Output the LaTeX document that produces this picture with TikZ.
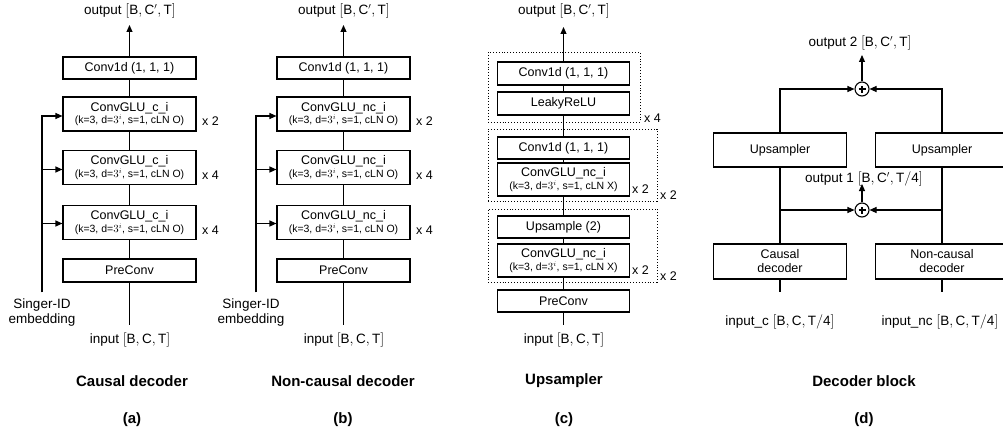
\documentclass[tikz,border=0pt]{standalone}
\usepackage{fontspec}
\setmainfont{Liberation Sans}
\usetikzlibrary{arrows.meta,calc}

% two-line label of a gated convolution block
\newcommand{\glu}[2]{ConvGLU\_#1\_i\\[-1.5pt]{\fontsize{10.5}{12}\selectfont (k=3, d=$3^{i}$, s=1, cLN #2)}}
\newcommand{\shp}[1]{$[\mathrm{#1}]$}

\tikzset{
  blk/.style={draw, line width=1.1pt, minimum width=133pt, inner sep=0pt, align=center,
              font=\fontsize{12.5}{14}\selectfont},
  tall/.style={blk, minimum height=34pt},
  short/.style={blk, minimum height=22pt},
  lbl/.style={font=\fontsize{13.5}{15}\selectfont, inner sep=0pt, align=center},
  rep/.style={font=\fontsize{12.5}{14}\selectfont, inner sep=0pt, anchor=west},
  ttl/.style={font=\fontsize{15}{17}\selectfont\bfseries, inner sep=0pt},
  wire/.style={line width=1.1pt},
  arr/.style={wire, -{Triangle[length=7pt,width=6pt]}},
  grp/.style={draw, dotted, line width=0.9pt, inner sep=0pt},
  sum/.style={circle, draw, line width=1.1pt, minimum size=14pt, inner sep=0pt,
    path picture={\draw[line width=1.4pt]
      ($(path picture bounding box.center)+(-3.5pt,0)$) -- ++(7pt,0)
      ($(path picture bounding box.center)+(0,-3.5pt)$) -- ++(0,7pt);}},
}

\begin{document}
\begin{tikzpicture}[x=1pt,y=-1pt]
\useasboundingbox (0,0) rectangle (1003,436);
\clip (0,0) rectangle (1003,436);

% ---------------- (a) causal decoder ----------------
\node[short] (aC) at (129.5,68) {Conv1d (1, 1, 1)};
\node[tall] (aG1) at (129.5,114) {\glu{c}{O}};
\node[tall] (aG2) at (129.5,167.5) {\glu{c}{O}};
\node[tall] (aG3) at (129.5,222.5) {\glu{c}{O}};
\node[short, minimum height=23pt] (aP) at (129.5,270.5) {PreConv};
\node[lbl] (aOut) at (130,11) {output \shp{B,C',T}};
\node[lbl] (aIn) at (130,340) {input \shp{B,C,T}};
\coordinate (aTip) at (129.5,25);
\coordinate (aEnd) at (129.5,325);
\coordinate (aS) at (42,292);
\node[rep] at (202,121) {x 2};
\node[rep] at (202,175) {x 4};
\node[rep] at (202,230) {x 4};
\node[lbl] (aSid) at (42,313) {Singer-ID\\embedding};
\draw[wire] (aP.north) -- (aG3.south) (aG3.north) -- (aG2.south)
            (aG2.north) -- (aG1.south) (aG1.north) -- (aC.south)
            (aP.south) -- (aEnd);
\draw[arr] (aC.north) -- (aTip);
\draw[arr] (aS) |- ([yshift=-2pt]aG1.west);
\draw[arr] (aS) |- ([yshift=-2pt]aG2.west);
\draw[arr] (aS) |- ([yshift=-1pt]aG3.west);
\node[ttl] at (132,381) {Causal decoder};
\node[ttl] at (132,420) {(a)};

% ---------------- (b) non-causal decoder ----------------
\node[short] (bC) at (343.5,68) {Conv1d (1, 1, 1)};
\node[tall] (bG1) at (343.5,114) {\glu{nc}{O}};
\node[tall] (bG2) at (343.5,167.5) {\glu{nc}{O}};
\node[tall] (bG3) at (343.5,222.5) {\glu{nc}{O}};
\node[short, minimum height=23pt] (bP) at (343.5,270.5) {PreConv};
\node[lbl] (bOut) at (344,11) {output \shp{B,C',T}};
\node[lbl] (bIn) at (344,340) {input \shp{B,C,T}};
\coordinate (bTip) at (343.5,25);
\coordinate (bEnd) at (343.5,325);
\coordinate (bS) at (256,292);
\node[rep] at (416,121) {x 2};
\node[rep] at (416,175) {x 4};
\node[rep] at (416,230) {x 4};
\node[lbl] (bSid) at (251,313) {Singer-ID\\embedding};
\draw[wire] (bP.north) -- (bG3.south) (bG3.north) -- (bG2.south)
            (bG2.north) -- (bG1.south) (bG1.north) -- (bC.south)
            (bP.south) -- (bEnd);
\draw[arr] (bC.north) -- (bTip);
\draw[arr] (bS) |- ([yshift=-2pt]bG1.west);
\draw[arr] (bS) |- ([yshift=-2pt]bG2.west);
\draw[arr] (bS) |- ([yshift=-1pt]bG3.west);
\node[ttl] at (343,381) {Non-causal decoder};
\node[ttl] at (343,420) {(b)};

% ---------------- (c) upsampler ----------------
\node[grp, minimum width=152pt, minimum height=70pt] (cB1) at (564,87) {};
\node[grp, minimum width=169pt, minimum height=72pt] (cB2) at (572.5,165) {};
\node[grp, minimum width=169pt, minimum height=73pt] (cB3) at (572.5,245.5) {};
\node[short, minimum width=132pt, minimum height=23pt] (cC1) at (563.5,73.5) {Conv1d (1, 1, 1)};
\node[short, minimum width=132pt, minimum height=23pt] (cL) at (563.5,103.5) {LeakyReLU};
\node[short, minimum width=132pt] (cC2) at (563.5,148) {Conv1d (1, 1, 1)};
\node[tall, minimum width=132pt, minimum height=33pt] (cG1) at (563.5,179.5) {\glu{nc}{X}};
\node[short, minimum width=132pt] (cU) at (563.5,227) {Upsample (2)};
\node[tall, minimum width=132pt, minimum height=33pt] (cG2) at (563.5,260.5) {\glu{nc}{X}};
\node[short, minimum width=132pt] (cP) at (563.5,301) {PreConv};
\node[lbl] (cOut) at (564,11) {output \shp{B,C',T}};
\node[lbl] (cIn) at (564,340) {input \shp{B,C,T}};
\coordinate (cTip) at (563.5,27);
\coordinate (cEnd) at (563.5,325);
\node[rep] at (644,118) {x 4};
\node[rep] at (632,189) {x 2};
\node[rep] at (660,195) {x 2};
\node[rep] at (632,270) {x 2};
\node[rep] at (660,276) {x 2};
\draw[wire] (cP.north) -- (cG2.south) (cG2.north) -- (cU.south)
            (cU.north) -- (cG1.south) (cG1.north) -- (cC2.south)
            (cC2.north) -- (cL.south) (cL.north) -- (cC1.south)
            (cP.south) -- (cEnd);
\draw[arr] (cC1.north) -- (cTip);
\node[ttl] at (564,381) {Upsampler};
\node[ttl] at (564,420) {(c)};

% ---------------- (d) decoder block ----------------
\node[blk, minimum height=34pt] (dUL) at (780,150) {Upsampler};
\node[blk, minimum height=34pt] (dUR) at (942,150) {Upsampler};
\node[blk, minimum height=35pt] (dCD) at (780,261.5) {Causal\\decoder};
\node[blk, minimum height=35pt] (dNC) at (942,261.5) {Non-causal\\decoder};
\node[sum] (dS1) at (862,89) {};
\node[sum] (dS2) at (862,210) {};
\node[lbl] (dO2) at (860,43) {output 2 \shp{B,C',T}};
\node[lbl] (dO1) at (864,179) {output 1 \shp{B,C',T/4}};
\node[lbl] (dIc) at (780,322) {input\_c \shp{B,C,T/4}};
\node[lbl] (dInc) at (940,322) {input\_nc \shp{B,C,T/4}};
\coordinate (dT2) at (862,55);
\coordinate (dT1) at (862,184);
\coordinate (dJL) at (780,210);
\coordinate (dJR) at (942,210);
\coordinate (dEL) at (780,292);
\coordinate (dER) at (942,292);
\draw[wire] (dCD.north) -- (dUL.south) (dNC.north) -- (dUR.south)
            (dCD.south) -- (dEL) (dNC.south) -- (dER);
\draw[arr] (dUL.north) |- (dS1.west);
\draw[arr] (dUR.north) |- (dS1.east);
\draw[arr] (dJL) -- (dS2.west);
\draw[arr] (dJR) -- (dS2.east);
\draw[arr] (dS1.north) -- (dT2);
\draw[arr] (dS2.north) -- (dT1);
\node[ttl] at (864,381) {Decoder block};
\node[ttl] at (864,420) {(d)};
\end{tikzpicture}
\end{document}
